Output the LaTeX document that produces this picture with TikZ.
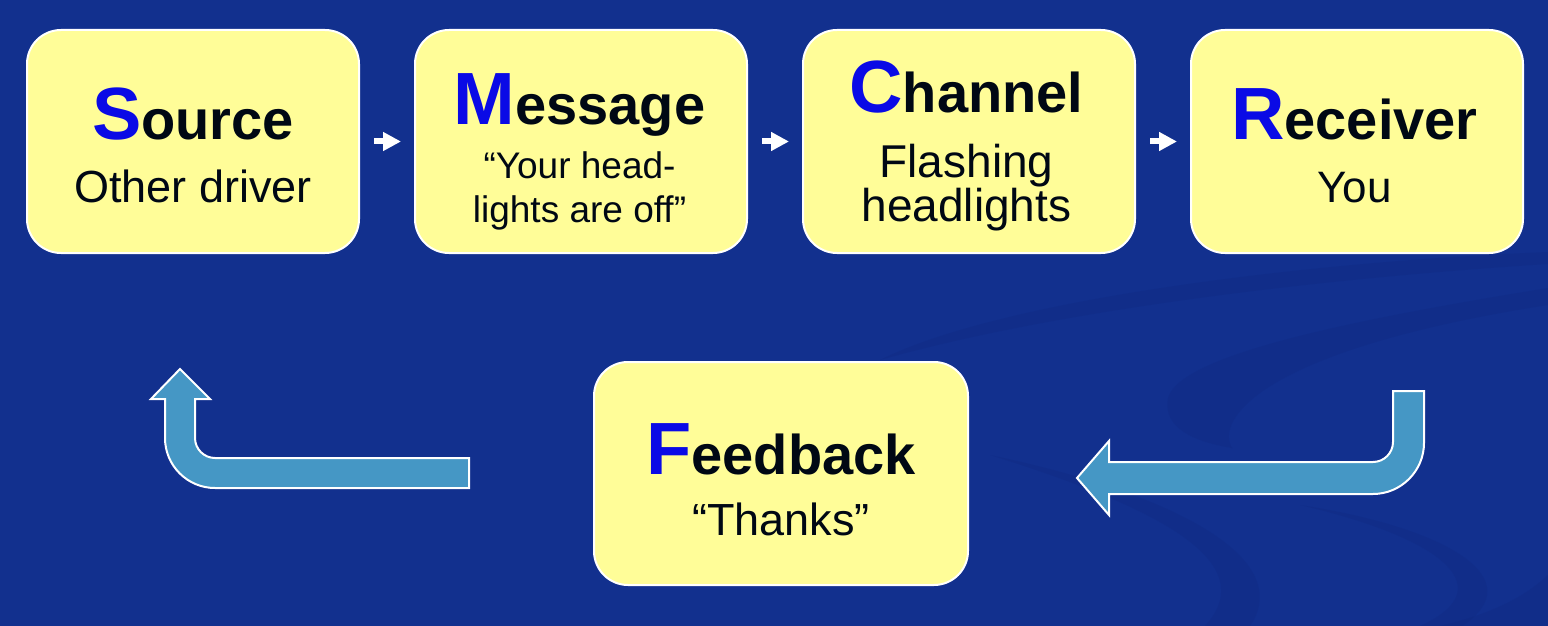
\documentclass[tikz,border=0pt]{standalone}
\usepackage{fontspec}
\setmainfont{Liberation Sans}
\usepackage{tikz}
\usetikzlibrary{arrows.meta, positioning}
\definecolor{smcrbg}{HTML}{12308E}
\definecolor{smcrswoosh}{HTML}{0E2479}
\definecolor{smcryellow}{HTML}{FFFD98}
\definecolor{smcrletter}{HTML}{0A0AE6}
\definecolor{smcrink}{HTML}{000814}
\definecolor{smcrarrow}{HTML}{4597C5}
\newcommand{\bigfirst}[1]{{\fontsize{37}{40}\selectfont\color{smcrletter}#1}}

\begin{document}
\begin{tikzpicture}[
    x=0.5pt, y=-0.5pt,
    node distance=27pt,
    box/.style={rectangle, rounded corners=17pt, draw=white, line width=1pt, fill=smcryellow, minimum width=166pt, minimum height=111.5pt, inner sep=0pt},
    title/.style={anchor=base, inner sep=0pt, text=smcrink, font=\fontsize{28}{30}\selectfont\bfseries},
    sub/.style={anchor=base, inner sep=0pt, text=smcrink},
    flow/.style={-{Triangle[length=9pt,width=9pt]}, line width=3pt, white, shorten <=7pt, shorten >=6.5pt},
    bent/.style={fill=smcrarrow, draw=white, line width=1pt, line join=miter},
    swoosh/.style={fill=smcrswoosh, opacity=0.22}
]
\fill[smcrbg] (0,0) rectangle (1548,626);
\useasboundingbox (0,0) rectangle (1548,626);

% background swooshes
\fill[swoosh] (880,360) .. controls (1000,300) and (1300,262) .. (1548,252) -- (1548,264) .. controls (1300,280) and (1050,312) .. (880,360) -- cycle;
\fill[swoosh] (1548,288) .. controls (1350,320) and (1180,355) .. (1168,398) .. controls (1162,428) and (1195,442) .. (1232,448) .. controls (1215,420) and (1260,350) .. (1548,305) -- cycle;
\fill[swoosh] (990,455) .. controls (1150,505) and (1265,560) .. (1205,626) -- (1250,626) .. controls (1295,560) and (1180,495) .. (990,455) -- cycle;
\fill[swoosh] (1300,505) .. controls (1450,540) and (1500,590) .. (1420,626) -- (1462,626) .. controls (1532,580) and (1450,528) .. (1300,505) -- cycle;
\fill[swoosh] (1440,626) .. controls (1500,612) and (1530,592) .. (1548,575) -- (1548,626) -- cycle;

% the four stages
\node[box] (src) at (193,141.5) {};
\node[box, right=of src] (msg) {};
\node[box, right=of msg] (chn) {};
\node[box, right=of chn] (rcv) {};
\node[box, minimum width=187pt] (fbk) at (781,473.5) {};

\node[title] (srcH) at (193,140) {\bigfirst{S}ource};
\node[sub, font=\fontsize{22.5}{26}\selectfont] (srcS) at (193,203) {Other driver};

\node[title] (msgH) at (579.5,125) {\bigfirst{M}essage};
\node[sub, font=\fontsize{18.5}{21}\selectfont] (msgS) at (579.5,178) {“Your head-};
\node[sub, font=\fontsize{18.5}{21}\selectfont] (msgT) at (579.5,222) {lights are off”};

\node[title] (chnH) at (966.5,113) {\bigfirst{C}hannel};
\node[sub, font=\fontsize{23}{26}\selectfont] (chnS) at (966.5,177) {Flashing};
\node[sub, font=\fontsize{23}{26}\selectfont] (chnT) at (966.5,221) {headlights};

\node[title] (rcvH) at (1354.5,140) {\bigfirst{R}eceiver};
\node[sub, font=\fontsize{22}{26}\selectfont] (rcvS) at (1354.5,203) {You};

\node[title] (fbkH) at (781,474) {\bigfirst{F}eedback};
\node[sub, font=\fontsize{22.5}{26}\selectfont] (fbkS) at (781,535) {“Thanks”};

\draw[flow] (src) -- (msg);
\draw[flow] (msg) -- (chn);
\draw[flow] (chn) -- (rcv);

% feedback loop arrows
\draw[bent] (1393,391) -- (1424,391) -- (1424,443) .. controls (1424,471) and (1401,494) .. (1373,494) -- (1109,494) -- (1109,515) -- (1077,478) -- (1109,441) -- (1109,462) -- (1373,462) .. controls (1384,462) and (1393,453) .. (1393,442) -- cycle;
\draw[bent] (469,458) -- (215,458) .. controls (204,458) and (195,449) .. (195,438) -- (195,399) -- (210,399) -- (180,369) -- (151,399) -- (165,399) -- (165,438) .. controls (165,465.6) and (187.4,488) .. (215,488) -- (469,488) -- cycle;
\end{tikzpicture}
\end{document}
